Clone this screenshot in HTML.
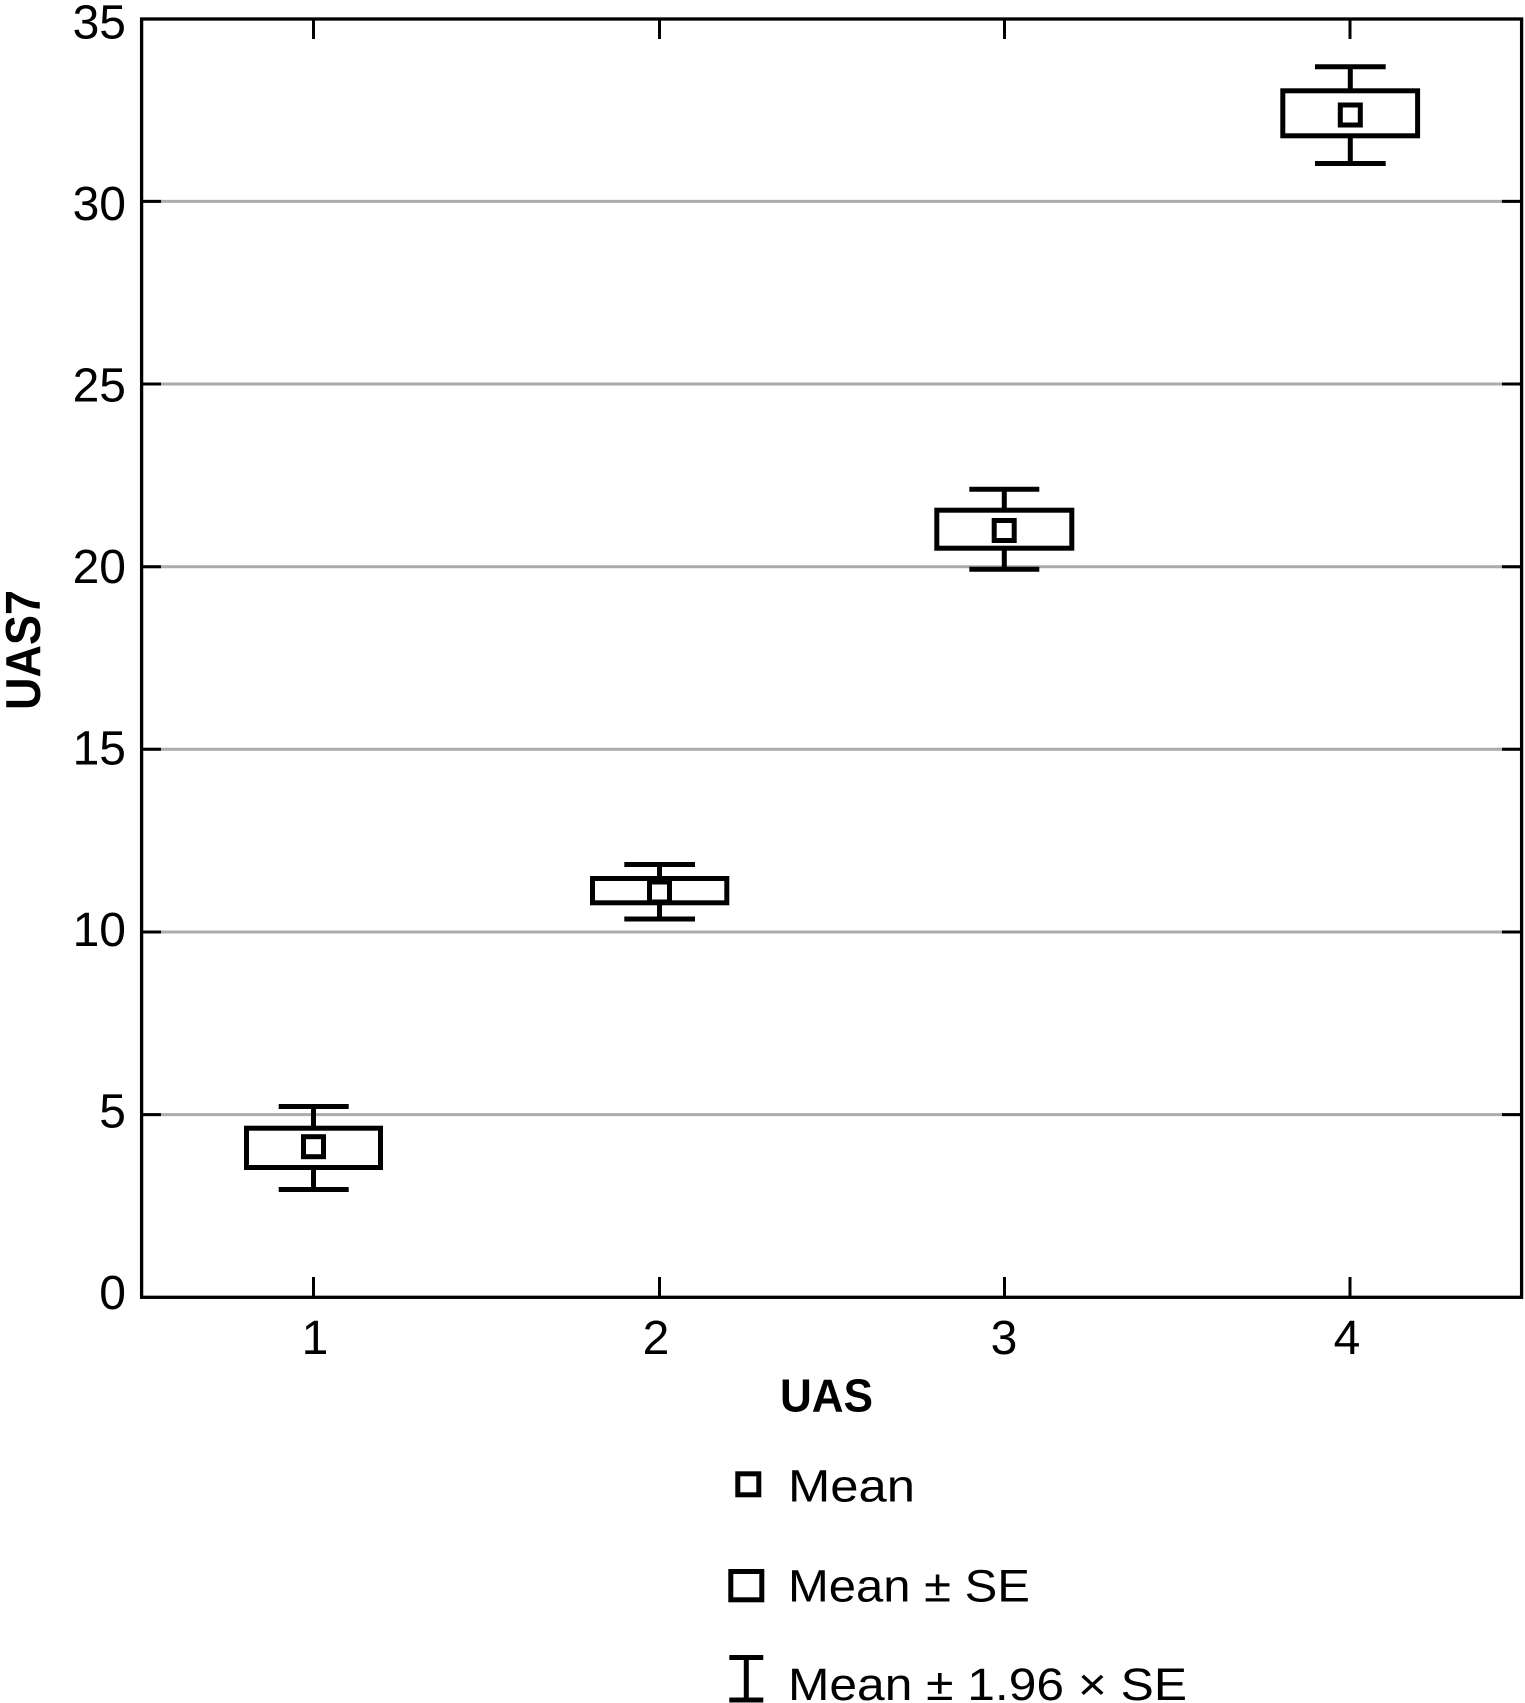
<!DOCTYPE html>
<html><head><meta charset="utf-8"><style>
html,body{margin:0;padding:0;background:#fff;}
svg{display:block;}
text{font-family:"Liberation Sans",sans-serif;fill:#000;}
</style></head><body>
<svg width="1525" height="1703" viewBox="0 0 1525 1703" xmlns="http://www.w3.org/2000/svg">
<rect width="1525" height="1703" fill="#fff"/>
<!-- gridlines -->
<g stroke="#ababab" stroke-width="3">
<line x1="141" y1="1114.6" x2="1522" y2="1114.6"/>
<line x1="141" y1="932" x2="1522" y2="932"/>
<line x1="141" y1="749.3" x2="1522" y2="749.3"/>
<line x1="141" y1="566.7" x2="1522" y2="566.7"/>
<line x1="141" y1="384" x2="1522" y2="384"/>
<line x1="141" y1="201.4" x2="1522" y2="201.4"/>
</g>
<!-- ticks -->
<g stroke="#000" stroke-width="3">
<line x1="141" y1="1114.6" x2="161" y2="1114.6"/><line x1="1502" y1="1114.6" x2="1522" y2="1114.6"/>
<line x1="141" y1="932" x2="161" y2="932"/><line x1="1502" y1="932" x2="1522" y2="932"/>
<line x1="141" y1="749.3" x2="161" y2="749.3"/><line x1="1502" y1="749.3" x2="1522" y2="749.3"/>
<line x1="141" y1="566.7" x2="161" y2="566.7"/><line x1="1502" y1="566.7" x2="1522" y2="566.7"/>
<line x1="141" y1="384" x2="161" y2="384"/><line x1="1502" y1="384" x2="1522" y2="384"/>
<line x1="141" y1="201.4" x2="161" y2="201.4"/><line x1="1502" y1="201.4" x2="1522" y2="201.4"/>
<line x1="313.5" y1="19" x2="313.5" y2="39"/><line x1="313.5" y1="1277" x2="313.5" y2="1297"/>
<line x1="659.5" y1="19" x2="659.5" y2="39"/><line x1="659.5" y1="1277" x2="659.5" y2="1297"/>
<line x1="1004.5" y1="19" x2="1004.5" y2="39"/><line x1="1004.5" y1="1277" x2="1004.5" y2="1297"/>
<line x1="1350" y1="19" x2="1350" y2="39"/><line x1="1350" y1="1277" x2="1350" y2="1297"/>
</g>
<!-- frame -->
<rect x="141.6" y="19" width="1380" height="1278.3" fill="none" stroke="#000" stroke-width="3.3"/>
<!-- boxes -->
<g fill="none" stroke="#000" stroke-width="5">
<!-- 1 -->
<line x1="313.5" y1="1106.5" x2="313.5" y2="1128"/>
<line x1="313.5" y1="1167.8" x2="313.5" y2="1189.5"/>
<line x1="278.7" y1="1106.5" x2="348.7" y2="1106.5"/>
<line x1="278.7" y1="1189.5" x2="348.7" y2="1189.5"/>
<rect x="246.5" y="1128.2" width="134" height="39.3"/>
<rect x="303.5" y="1136.7" width="20" height="20"/>
<!-- 2 -->
<line x1="659.5" y1="864.5" x2="659.5" y2="878.25"/>
<line x1="659.5" y1="903" x2="659.5" y2="919"/>
<line x1="624.3" y1="864.5" x2="695" y2="864.5"/>
<line x1="624.3" y1="919" x2="695" y2="919"/>
<rect x="592.5" y="878.5" width="134.3" height="24.3"/>
<rect x="649.5" y="882" width="20" height="20"/>
<!-- 3 -->
<line x1="1004.3" y1="489.2" x2="1004.3" y2="510"/>
<line x1="1004.3" y1="548.5" x2="1004.3" y2="569.2"/>
<line x1="969.3" y1="489.2" x2="1039.3" y2="489.2"/>
<line x1="969.3" y1="569.2" x2="1039.3" y2="569.2"/>
<rect x="936.8" y="510.2" width="135" height="38"/>
<rect x="994.2" y="520.5" width="20" height="20"/>
<!-- 4 -->
<line x1="1350.3" y1="66.8" x2="1350.3" y2="90.5"/>
<line x1="1350.3" y1="136" x2="1350.3" y2="163.5"/>
<line x1="1315" y1="66.8" x2="1385.7" y2="66.8"/>
<line x1="1315" y1="163.5" x2="1385.7" y2="163.5"/>
<rect x="1282.8" y="90.8" width="134.8" height="45"/>
<rect x="1340.3" y="105" width="20" height="20"/>
</g>
<!-- y tick labels -->
<g font-size="48" text-anchor="end">
<text x="126" y="38.3">35</text>
<text x="126" y="219.8">30</text>
<text x="126" y="401.3">25</text>
<text x="126" y="582.8">20</text>
<text x="126" y="764.4">15</text>
<text x="126" y="945.9">10</text>
<text x="126" y="1127.4">5</text>
<text x="126" y="1309">0</text>
</g>
<!-- x tick labels -->
<g font-size="48" text-anchor="middle">
<text x="315" y="1354">1</text>
<text x="656" y="1354">2</text>
<text x="1004" y="1354">3</text>
<text x="1347" y="1354">4</text>
</g>
<!-- axis titles -->
<text x="780" y="1411.7" font-size="46" font-weight="bold" textLength="93" lengthAdjust="spacingAndGlyphs">UAS</text>
<text transform="translate(40,710) rotate(-90)" font-size="49" font-weight="bold" textLength="120" lengthAdjust="spacingAndGlyphs">UAS7</text>
<!-- legend -->
<g fill="none" stroke="#000">
<rect x="737.8" y="1473.8" width="21" height="21" stroke-width="5"/>
<rect x="730.8" y="1571.5" width="31" height="28.3" stroke-width="5"/>
<line x1="729.3" y1="1657.5" x2="763.3" y2="1657.5" stroke-width="5"/>
<line x1="746.3" y1="1657.5" x2="746.3" y2="1700" stroke-width="5"/>
<line x1="729.3" y1="1700" x2="763.3" y2="1700" stroke-width="5"/>
</g>
<g font-size="45">
<text x="788" y="1501.7" textLength="127" lengthAdjust="spacingAndGlyphs">Mean</text>
<text x="788" y="1601.7" textLength="242" lengthAdjust="spacingAndGlyphs">Mean ± SE</text>
<text x="788" y="1700" textLength="399" lengthAdjust="spacingAndGlyphs">Mean ± 1.96 × SE</text>
</g>
</svg>
</body></html>
